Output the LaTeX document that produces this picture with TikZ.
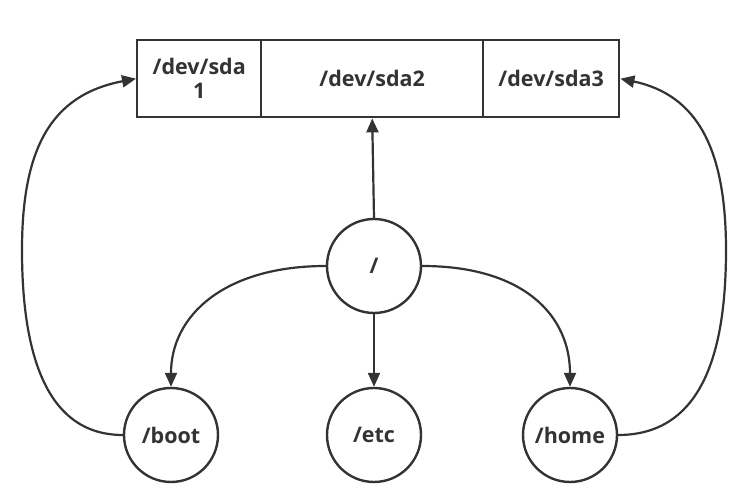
\documentclass[tikz,border=0pt]{standalone}
\usepackage{fontspec}
\setmainfont{Open Sans}
\usetikzlibrary{arrows.meta}
\definecolor{ink}{HTML}{333333}
\begin{document}
\begin{tikzpicture}[x=1pt,y=-1pt,
  line width=2.4pt, draw=ink, text=ink,
  font=\fontsize{21.5}{24}\selectfont\bfseries,
  cell/.style={draw, rectangle, minimum height=77pt, inner sep=0pt, align=center, anchor=north west},
  dirnode/.style={draw, circle, minimum size=94pt, inner sep=0pt},
  link/.style={-{Triangle[length=14pt,width=12pt]}, line width=2.2pt}]
  \useasboundingbox (0,0) rectangle (748,502);
  % partition table
  \node[cell, minimum width=124pt] (p1) at (136,39) {/dev/sda\\1};
  \node[cell, minimum width=222pt] (p2) at (260,39) {/dev/sda2};
  \node[cell, minimum width=136pt] (p3) at (482,39) {/dev/sda3};
  % directory tree
  \node[dirnode] (root) at (374,266) {/};
  \node[dirnode] (boot) at (171,435) {/boot};
  \node[dirnode] (etc)  at (374,435) {/etc};
  \node[dirnode] (home) at (570,435) {/home};
  % mount relations
  \draw[link] (root.north) -- (p2.south);
  \draw[link] (root.south) -- (etc.north);
  \draw[link] (root.west) .. controls (225,266) and (171,315) .. (boot.north);
  \draw[link] (root.east) .. controls (523,266) and (570,315) .. (home.north);
  \draw[link] (boot.west) .. controls (40,435) and (22,340) .. (22,250)
                          .. controls (22,150) and (50,95) .. (p1.west);
  \draw[link] (home.east) .. controls (708,435) and (726,340) .. (726,250)
                          .. controls (726,150) and (698,95) .. (p3.east);
\end{tikzpicture}
\end{document}
